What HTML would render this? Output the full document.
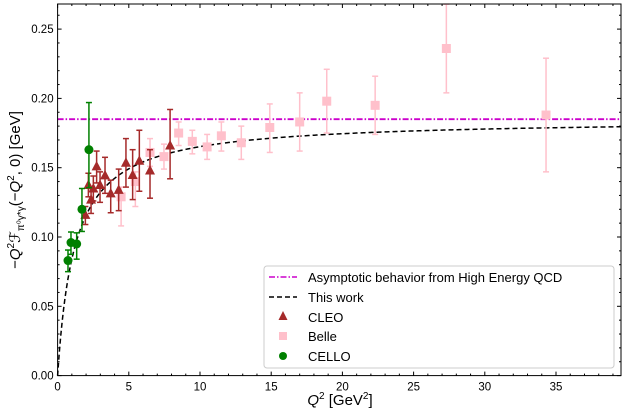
<!DOCTYPE html>
<html><head><meta charset="utf-8"><style>
html,body{margin:0;padding:0;background:#fff;}
svg{display:block;font-family:"Liberation Sans","DejaVu Sans",sans-serif;}
</style></head><body>
<svg id="chart" width="623" height="412" viewBox="0 0 623 412" xmlns="http://www.w3.org/2000/svg">
<g id="grid"></g>
<g id="marks"></g>
<g id="axes"></g>
<text x="340" y="405" font-size="15" text-anchor="middle"><tspan font-style="italic">Q</tspan><tspan dy="-6" font-size="10">2</tspan><tspan dy="6"> [GeV</tspan><tspan dy="-6" font-size="10">2</tspan><tspan dy="6">]</tspan></text>
<text transform="translate(20,190) rotate(-90)" font-size="15" text-anchor="middle">−<tspan font-style="italic">Q</tspan><tspan dy="-6" font-size="10">2</tspan><tspan dy="6" font-style="italic">ℱ</tspan><tspan dy="4" font-size="10">π⁰γ*γ</tspan><tspan dy="-4">(−</tspan><tspan font-style="italic">Q</tspan><tspan dy="-6" font-size="10">2</tspan><tspan dy="6">, 0) [GeV]</tspan></text>
<g>
<rect x="264" y="266" width="350" height="102" rx="3" fill="#fff" fill-opacity="0.85" stroke="#ccc" stroke-width="1"/>
<line x1="269" y1="277" x2="297" y2="277" stroke="#cc00cc" stroke-width="1.5" stroke-dasharray="6,2,1.5,2"/>
<text x="308" y="282" font-size="13">Asymptotic behavior from High Energy QCD</text>
<line x1="269" y1="297" x2="297" y2="297" stroke="#000" stroke-width="1.5" stroke-dasharray="5,3"/>
<text x="308" y="302" font-size="13">This work</text>
<path d="M283,311 L287.5,320 L278.5,320 Z" fill="#a52a2a"/>
<text x="308" y="322" font-size="13">CLEO</text>
<rect x="279" y="332" width="8" height="8" fill="#ffc0cb"/>
<text x="308" y="341" font-size="13">Belle</text>
<circle cx="283" cy="356" r="4" fill="#008000"/>
<text x="308" y="361" font-size="13">CELLO</text>
</g>
</svg>
<script>
const xTicks=[0,5,10,15,20,25,30,35];
const yTicks=[0.00,0.05,0.10,0.15,0.20,0.25];
const yTickLabels=["0.00","0.05","0.10","0.15","0.20","0.25"];
const asymptote=0.185;
const modelA=0.185, modelM2=1.2;
const belleQ2=[4.46,5.46,6.49,7.47,8.5,9.46,10.5,11.5,12.9,14.9,17.0,18.9,22.3,27.3,34.3];
const belleF=[0.129,0.140,0.161,0.158,0.175,0.169,0.165,0.173,0.168,0.179,0.183,0.198,0.195,0.236,0.188];
const belleLo=[0.108,0.122,0.151,0.149,0.166,0.160,0.156,0.162,0.156,0.161,0.162,0.175,0.174,0.204,0.147];
const belleHi=[0.136,0.147,0.171,0.167,0.183,0.177,0.174,0.183,0.180,0.196,0.204,0.221,0.216,0.268,0.229];
const cleoQ2=[1.95,2.16,2.35,2.51,2.74,2.98,3.33,3.73,4.29,4.8,5.27,5.74,6.49,7.9];
const cleoF=[0.116,0.1375,0.127,0.135,0.151,0.1375,0.1445,0.1315,0.134,0.1536,0.1447,0.155,0.148,0.166];
const cleoLo=[0.109,0.129,0.117,0.126,0.139,0.125,0.1315,0.1175,0.119,0.136,0.127,0.133,0.128,0.142];
const cleoHi=[0.122,0.146,0.135,0.144,0.162,0.147,0.1575,0.141,0.149,0.171,0.163,0.177,0.163,0.192];
const celloQ2=[0.73,0.94,1.34,1.71,2.2];
const celloF=[0.083,0.096,0.095,0.120,0.163];
const celloLo=[0.075,0.0875,0.084,0.104,0.1356];
const celloHi=[0.0906,0.1036,0.103,0.135,0.197];

const L=57.6,R=621,T=4,B=375.6;
const xMax=(R-L)/14.24, yMax=(B-T)/1386;
const X=v=>L+v*(R-L)/xMax;
const Y=v=>B-v*(B-T)/yMax;
const NS="http://www.w3.org/2000/svg";
function mk(tag,attrs,parent){const e=document.createElementNS(NS,tag);for(const k in attrs)e.setAttribute(k,attrs[k]);parent.appendChild(e);return e;}
const marks=document.getElementById('marks'), axes=document.getElementById('axes');

let a=mk('line',{x1:L,x2:R,y1:Y(asymptote),y2:Y(asymptote),stroke:'#cc00cc','stroke-width':1.8,'stroke-dasharray':'6,2,1.5,2'},marks);


let d='';
for(let i=0;i<=400;i++){const q=0.02+i*(xMax-0.02)/400;const f=modelA*q/(q+modelM2);d+=(i?'L':'M')+X(q).toFixed(2)+','+Y(f).toFixed(2);}
let c=mk('path',{d:'M'+X(0)+','+Y(0)+' '+d.replace(/^M/,'L'),fill:'none',stroke:'#000','stroke-width':1.5,'stroke-dasharray':'5,3'},marks);



function errbar(q,lo,hi,col,name){
  const g=mk('g',{stroke:col,'stroke-width':1.5},marks);
  
  
  mk('line',{x1:X(q),x2:X(q),y1:Y(lo),y2:Y(hi)},g);
  mk('line',{x1:X(q)-3,x2:X(q)+3,y1:Y(lo),y2:Y(lo)},g);
  mk('line',{x1:X(q)-3,x2:X(q)+3,y1:Y(hi),y2:Y(hi)},g);
}
belleQ2.forEach((q,i)=>{
  errbar(q,belleLo[i],belleHi[i],'#ffc0cb','belle-errorbar');
  const r=mk('rect',{x:X(q)-4.5,y:Y(belleF[i])-4.5,width:9,height:9,fill:'#ffc0cb'},marks);
  
  
});
cleoQ2.forEach((q,i)=>{
  errbar(q,cleoLo[i],cleoHi[i],'#a52a2a','cleo-errorbar');
  const x=X(q),y=Y(cleoF[i]);
  const p=mk('path',{d:`M${x},${y-5.5} L${x+5},${y+4} L${x-5},${y+4} Z`,fill:'#a52a2a'},marks);
  
  
});
celloQ2.forEach((q,i)=>{
  errbar(q,celloLo[i],celloHi[i],'#008000','cello-errorbar');
  const p=mk('circle',{cx:X(q),cy:Y(celloF[i]),r:4.5,fill:'#008000'},marks);
  
  
});

const fr=mk('rect',{x:L,y:T,width:R-L,height:B-T,fill:'none',stroke:'#000','stroke-width':1},axes);


for(let v=0;v<=Math.floor(xMax);v++){
  const len=v%5===0?4:2;
  mk('line',{x1:X(v),x2:X(v),y1:B,y2:B-len,stroke:'#000'},axes);
  mk('line',{x1:X(v),x2:X(v),y1:T,y2:T+len,stroke:'#000'},axes);
}
xTicks.forEach(v=>{
  const t=mk('text',{x:X(v),y:B+15,'font-size':11.5,'text-anchor':'middle'},axes);
  t.textContent=String(v);
  
  
});
for(let k=0;k*0.01<=yMax;k++){
  const v=k*0.01,len=k%5===0?4:2;
  mk('line',{x1:L,x2:L+len,y1:Y(v),y2:Y(v),stroke:'#000'},axes);
  mk('line',{x1:R,x2:R-len,y1:Y(v),y2:Y(v),stroke:'#000'},axes);
}
yTicks.forEach((v,i)=>{
  const t=mk('text',{x:L-4,y:Y(v)+4,'font-size':11.5,'text-anchor':'end'},axes);
  t.textContent=yTickLabels[i];
  
  
});
</script>
</body></html>
